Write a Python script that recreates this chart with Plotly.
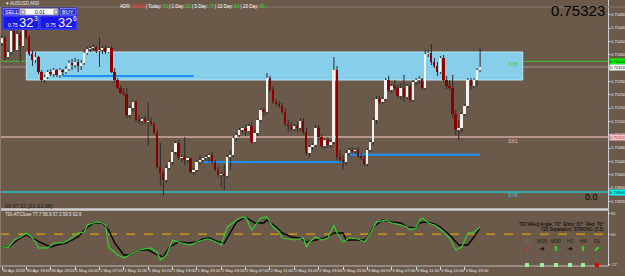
import plotly.graph_objects as go

# ---------------- data ----------------
symbol_title = "AUDUSD,M30"
first_open = 0.75395
close = [0.75410, 0.75353, 0.75368, 0.75431, 0.75374, 0.75422, 0.75386, 0.75434, 0.75413, 0.75362,
         0.75344, 0.75353, 0.75308, 0.75284, 0.75293, 0.75308, 0.75302, 0.75314, 0.75299, 0.75314,
         0.75308, 0.75317, 0.75335, 0.75329, 0.75338, 0.75326, 0.75335, 0.75365, 0.75377, 0.75380,
         0.75383, 0.75371, 0.75374, 0.75380, 0.75368, 0.75380, 0.75308, 0.75284, 0.75260, 0.75245,
         0.75242, 0.75179, 0.75200, 0.75218, 0.75164, 0.75161, 0.75167, 0.75158, 0.75161, 0.75152,
         0.75125, 0.75023, 0.75005, 0.74984, 0.75020, 0.75038, 0.75068, 0.75095, 0.75050, 0.75053,
         0.75044, 0.75050, 0.75008, 0.75014, 0.75038, 0.75044, 0.75050, 0.75053, 0.75059, 0.75038,
         0.75014, 0.74999, 0.75002, 0.74996, 0.75053, 0.75059, 0.75110, 0.75119, 0.75134, 0.75140,
         0.75131, 0.75146, 0.75098, 0.75125, 0.75164, 0.75194, 0.75188, 0.75290, 0.75254, 0.75218,
         0.75212, 0.75206, 0.75188, 0.75152, 0.75146, 0.75137, 0.75146, 0.75140, 0.75161, 0.75128,
         0.75065, 0.75083, 0.75089, 0.75140, 0.75113, 0.75086, 0.75104, 0.75089, 0.75098, 0.75314,
         0.75053, 0.75044, 0.75038, 0.75065, 0.75074, 0.75071, 0.75074, 0.75056, 0.75050, 0.75032,
         0.75074, 0.75098, 0.75164, 0.75227, 0.75218, 0.75227, 0.75284, 0.75254, 0.75266, 0.75260,
         0.75236, 0.75260, 0.75233, 0.75266, 0.75224, 0.75278, 0.75284, 0.75287, 0.75260, 0.75362,
         0.75365, 0.75338, 0.75326, 0.75308, 0.75350, 0.75284, 0.75266, 0.75260, 0.75182, 0.75134,
         0.75140, 0.75182, 0.75206, 0.75284, 0.75266, 0.75284, 0.75314, 0.75323]
high = [0.75419, 0.75416, 0.75374, 0.75440, 0.75437, 0.75431, 0.75428, 0.75449, 0.75458, 0.75419,
        0.75374, 0.75368, 0.75356, 0.75314, 0.75299, 0.75314, 0.75317, 0.75320, 0.75317, 0.75320,
        0.75317, 0.75326, 0.75344, 0.75347, 0.75350, 0.75347, 0.75344, 0.75374, 0.75383, 0.75386,
        0.75392, 0.75386, 0.75413, 0.75386, 0.75389, 0.75383, 0.75386, 0.75320, 0.75290, 0.75269,
        0.75260, 0.75260, 0.75206, 0.75224, 0.75224, 0.75179, 0.75173, 0.75176, 0.75218, 0.75170,
        0.75158, 0.75134, 0.75095, 0.75014, 0.75029, 0.75044, 0.75074, 0.75101, 0.75104, 0.75059,
        0.75113, 0.75053, 0.75050, 0.75020, 0.75044, 0.75059, 0.75053, 0.75059, 0.75065, 0.75068,
        0.75044, 0.75023, 0.75008, 0.75029, 0.75059, 0.75074, 0.75116, 0.75125, 0.75140, 0.75143,
        0.75149, 0.75152, 0.75158, 0.75134, 0.75170, 0.75200, 0.75200, 0.75305, 0.75296, 0.75266,
        0.75227, 0.75221, 0.75215, 0.75200, 0.75164, 0.75158, 0.75152, 0.75158, 0.75170, 0.75170,
        0.75140, 0.75089, 0.75095, 0.75149, 0.75149, 0.75122, 0.75110, 0.75113, 0.75104, 0.75353,
        0.75326, 0.75074, 0.75059, 0.75074, 0.75080, 0.75083, 0.75080, 0.75083, 0.75065, 0.75059,
        0.75080, 0.75104, 0.75170, 0.75236, 0.75236, 0.75233, 0.75290, 0.75296, 0.75272, 0.75284,
        0.75269, 0.75275, 0.75299, 0.75272, 0.75272, 0.75284, 0.75290, 0.75296, 0.75290, 0.75374,
        0.75374, 0.75392, 0.75350, 0.75338, 0.75356, 0.75359, 0.75296, 0.75284, 0.75299, 0.75194,
        0.75164, 0.75188, 0.75212, 0.75290, 0.75290, 0.75290, 0.75320, 0.75380]
low = [0.75386, 0.75344, 0.75347, 0.75359, 0.75368, 0.75371, 0.75338, 0.75383, 0.75407, 0.75356,
       0.75326, 0.75335, 0.75302, 0.75278, 0.75275, 0.75287, 0.75296, 0.75293, 0.75293, 0.75290,
       0.75296, 0.75302, 0.75311, 0.75314, 0.75320, 0.75308, 0.75314, 0.75329, 0.75359, 0.75368,
       0.75371, 0.75365, 0.75323, 0.75362, 0.75362, 0.75365, 0.75305, 0.75278, 0.75257, 0.75242,
       0.75236, 0.75170, 0.75170, 0.75188, 0.75158, 0.75152, 0.75149, 0.75152, 0.75086, 0.75146,
       0.75122, 0.75020, 0.74966, 0.74939, 0.74975, 0.75014, 0.75029, 0.75059, 0.75044, 0.75038,
       0.75029, 0.75035, 0.75002, 0.74999, 0.75008, 0.75029, 0.75035, 0.75041, 0.75038, 0.75032,
       0.75011, 0.74993, 0.74963, 0.74954, 0.74990, 0.75014, 0.75053, 0.75101, 0.75113, 0.75125,
       0.75116, 0.75128, 0.75092, 0.75095, 0.75116, 0.75158, 0.75176, 0.75182, 0.75248, 0.75212,
       0.75206, 0.75200, 0.75182, 0.75146, 0.75128, 0.75131, 0.75131, 0.75128, 0.75131, 0.75122,
       0.75059, 0.75053, 0.75074, 0.75083, 0.75104, 0.75080, 0.75077, 0.75080, 0.75080, 0.75092,
       0.75044, 0.75038, 0.75014, 0.75029, 0.75056, 0.75065, 0.75062, 0.75050, 0.75044, 0.75026,
       0.75026, 0.75068, 0.75089, 0.75152, 0.75212, 0.75212, 0.75221, 0.75248, 0.75245, 0.75254,
       0.75230, 0.75224, 0.75218, 0.75227, 0.75218, 0.75218, 0.75269, 0.75272, 0.75254, 0.75254,
       0.75353, 0.75329, 0.75320, 0.75296, 0.75302, 0.75278, 0.75257, 0.75254, 0.75170, 0.75119,
       0.75104, 0.75128, 0.75176, 0.75200, 0.75254, 0.75260, 0.75266, 0.75308]

time_tick_bars = [0, 8, 16, 24, 32, 40, 48, 56, 64, 72, 80, 88, 96, 104, 112, 120, 128, 136, 144, 152]
time_tick_labels = ["30 Apr 2018", "30 Apr 19:00", "30 Apr 23:00", "1 May 03:00", "1 May 07:00",
                    "1 May 11:00", "1 May 15:00", "1 May 19:00", "1 May 23:00", "2 May 03:00",
                    "2 May 07:00", "2 May 11:00", "2 May 15:00", "2 May 19:00", "2 May 23:00",
                    "3 May 03:00", "3 May 07:00", "3 May 11:00", "3 May 15:00", "3 May 19:00"]

bid_price = 0.75323
green_level = 0.75340
sr61_level = 0.75113
sr78_level = 0.74948
zone_top, zone_bottom = 0.75368, 0.75284
zone_start_bar, zone_end_bar = 8, 171
blue_seg_start = [20, 66, 114]
blue_seg_end = [63, 112, 157]
blue_seg_price = [0.75296, 0.75038, 0.75060]

osc_black_bar = [0, 2, 5, 8, 10, 13, 16, 18, 21, 25, 27, 30, 33, 35, 37, 40, 42, 45, 48, 51, 53, 55, 58, 61, 64,
                 66, 68, 71, 73, 75, 77, 80, 83, 86, 87, 90, 92, 95, 98, 100, 103, 106, 109, 112, 113, 115,
                 119, 120, 122, 125, 128, 131, 133, 136, 137, 139, 142, 144, 147, 150, 153, 155, 157]
osc_black_val = [23.9, 19.6, 37.1, 48.1, 41.5, 30.5, 21.7, 26.1, 30.5, 43.7, 59.1, 74.5, 74.5, 59.1, 30.5,
                 4.2, 4.2, 15.2, 15.2, 4.2, -0.2, 21.7, 32.7, 30.5, 32.7, 39.3, 41.5, 32.7, 30.5, 54.7,
                 76.6, 87.6, 74.5, 74.5, 81.0, 65.7, 52.5, 43.7, 41.5, 32.7, 37.1, 41.5, 52.5, 52.5, 37.1,
                 37.1, 37.1, 43.7, 65.7, 81.0, 76.6, 74.5, 65.7, 63.5, 74.5, 76.6, 72.3, 65.7, 48.1, 26.1,
                 26.1, 43.7, 63.5]
osc_green_bar = [0, 2, 4, 6, 8, 10, 11, 12, 15, 17, 20, 22, 25, 27, 28, 31, 33, 34, 35, 38, 40, 42, 45, 49, 51,
                 52, 54, 56, 59, 62, 64, 67, 68, 71, 72, 74, 78, 80, 82, 85, 87, 89, 91, 92, 96, 99, 100, 101,
                 103, 105, 107, 109, 110, 112, 114, 117, 119, 121, 123, 126, 128, 131, 133, 134, 136, 137,
                 138, 140, 142, 145, 147, 149, 151, 153, 155, 157]
osc_green_val = [23.9, 19.6, 37.1, 43.7, 52.5, 41.5, 32.7, 19.6, 19.6, 30.5, 30.5, 37.1, 52.5, 54.7, 70.1,
                 76.6, 74.5, 70.1, 21.7, 4.2, -2.4, 4.2, 15.2, 19.6, 8.6, -6.8, 4.2, 37.1, 30.5, 26.1, 32.7,
                 39.3, 39.3, 30.5, 26.1, 65.7, 85.4, 87.6, 59.1, 85.4, 87.6, 65.7, 54.7, 41.5, 37.1, 41.5,
                 21.7, 32.7, 43.7, 37.1, 41.5, 70.1, 52.5, 32.7, 41.5, 39.3, 32.7, 52.5, 76.6, 81.0, 74.5,
                 70.1, 65.7, 59.1, 63.5, 78.8, 85.4, 74.5, 70.1, 54.7, 41.5, 15.2, 21.7, 52.5, 54.7, 65.7]
osc_level = 50
osc_ticks = [95, 50, -17]

tdi_title = "TDI-AT:Close 77.7 56.9 57.3 59.5 62.6"
tdi_angle_text = "TDI WAvg Angle: 73°  Entry: 67°  Red: 70°"
tdi_sep_text = "TDI Separation: STRONG (5.5)"
timeframes = ["M5", "M15", "M30", "H1", "H4", "D1"]
tf_arrows = ["↙", "➜", "⬆", "➜", "⬆", "⬈"]
tf_arrow_colors = ["#ff1a1a", "#000000", "#1ee61e", "#000000", "#1ee61e", "#1ee61e"]
tf_square_colors = ["#9cf09c", "#9cf09c", "#9cf09c", "#9cf09c", "#9cf09c", "#e00000"]
adr_items = [("ADR:", "96.5%"), ("| Today:", "56"), ("| 1 Day:", "62"), ("| 5 Day:", "77"),
             ("| 10 Day:", "84"), ("| 20 Day:", "86")]
lot_size = "0.01"
bid_big, bid_small, bid_frac = "32", "0.75", "3"
ask_big, ask_small, ask_frac = "32", "0.75", "6"
timer_text = "00:07:22 [21:32:38]"
fib_zero_text = "0.0"

# ---------------- styling / layout ----------------
W, H = 625, 276
BG = "#6b5a4a"
FONT = "Liberation Sans"
AX_RIGHT = 608 / W


def px(x, y):
    return x / W, 1 - y / H


n = len(close)
bars = list(range(n))
opn = [first_open] + close[:-1]

body_lo, body_h, body_col = [], [], []
wick_x, wick_y = [], []
for i in bars:
    o, c = opn[i], close[i]
    lo, hi = min(o, c), max(o, c)
    h = max(hi - lo, 0.000012)
    body_lo.append(lo)
    body_h.append(h)
    body_col.append("#f2f2f2" if c >= o else "#8b0000")
    wick_x += [i, i, None, i, i, None]
    wick_y += [high[i], hi, None, lo, low[i], None]

fig = go.Figure()
fig.add_trace(go.Scatter(x=wick_x, y=wick_y, mode="lines", line=dict(color="#2b2b2b", width=1),
                         hoverinfo="skip", xaxis="x", yaxis="y"))
fig.add_trace(go.Bar(x=bars, y=body_h, base=body_lo, width=0.62, marker=dict(color=body_col, line=dict(width=0)),
                     hoverinfo="skip", xaxis="x", yaxis="y"))
fig.add_trace(go.Scatter(x=osc_black_bar, y=osc_black_val, mode="lines", line=dict(color="#000000", width=1.4),
                         hoverinfo="skip", xaxis="x2", yaxis="y2"))
fig.add_trace(go.Scatter(x=osc_green_bar, y=osc_green_val, mode="lines", line=dict(color="#2ed12e", width=1.2),
                         hoverinfo="skip", xaxis="x2", yaxis="y2"))

xr = [-0.66, 199.0]
tickfont = dict(family=FONT, size=4.1, color="#e6e6e6")
fig.update_layout(
    template="none", width=W, height=H, margin=dict(l=0, r=0, t=0, b=0),
    paper_bgcolor=BG, plot_bgcolor=BG, showlegend=False, bargap=0, barmode="overlay",
    xaxis=dict(domain=[0, AX_RIGHT], range=xr, anchor="y", showticklabels=False, showgrid=False,
               zeroline=False, showline=False, ticks="", automargin=False),
    yaxis=dict(domain=[1 - 207 / H, 1 - 8 / H], range=[0.74903, 0.75500], side="right", anchor="x",
               dtick=0.0004, tick0=0, tickformat=".5f", ticks="outside", ticklen=1, tickcolor="#e0e0e0",
               tickfont=tickfont, showgrid=False, zeroline=False, showline=False, automargin=False),
    xaxis2=dict(domain=[0, AX_RIGHT], range=xr, anchor="y2", tickvals=time_tick_bars, ticktext=time_tick_labels,
                ticks="outside", ticklen=3, tickcolor="#e0e0e0", ticklabelposition="outside right",
                tickangle=0, tickfont=dict(family=FONT, size=4.2, color="#e6e6e6"),
                showgrid=False, zeroline=False, showline=False, automargin=False),
    yaxis2=dict(domain=[1 - 266 / H, 1 - 211 / H], range=[-20, 100.8], side="right", anchor="x2",
                tickvals=osc_ticks, ticktext=[str(v) for v in osc_ticks], ticks="outside", ticklen=1,
                tickcolor="#e0e0e0", tickfont=tickfont, showgrid=False, zeroline=False, showline=False,
                automargin=False),
)

shapes = []
# support/resistance zone
shapes.append(dict(type="rect", xref="x", yref="y", x0=zone_start_bar, x1=zone_end_bar, y0=zone_bottom,
                   y1=zone_top, fillcolor="#87ceeb", line=dict(color="#b8e6f8", width=1), layer="below"))
# horizontal levels
for lvl, col, w in [(green_level, "#3cc43c", 1), (bid_price, "#9c968f", 1),
                    (sr61_level, "#b8968a", 2), (sr78_level, "#22c4c4", 1.5)]:
    shapes.append(dict(type="line", xref="paper", yref="y", x0=0, x1=AX_RIGHT, y0=lvl, y1=lvl,
                       line=dict(color=col, width=w), layer="below"))
for s, e, p in zip(blue_seg_start, blue_seg_end, blue_seg_price):
    shapes.append(dict(type="line", xref="x", yref="y", x0=s, x1=e, y0=p, y1=p,
                       line=dict(color="#1e8fff", width=2), layer="below"))
# oscillator level
shapes.append(dict(type="line", xref="paper", yref="y2", x0=0, x1=AX_RIGHT, y0=osc_level, y1=osc_level,
                   line=dict(color="#e0a010", width=1.3, dash="dash"), layer="below"))
# frame lines
for (x0, y0, x1, y1, col, w) in [(608.5, 0, 608.5, 266, "#cfcfcf", 1), (0, 209.5, 608.5, 209.5, "#cfcfcf", 2.5),
                                 (0, 266, 608.5, 266, "#bdbdbd", 1), (0.5, 7, 0.5, 266, "#8c7c6c", 1),
                                 (0, 7, 625, 7, "#85756a", 1)]:
    a, b = px(x0, y0)
    c, d = px(x1, y1)
    shapes.append(dict(type="line", xref="paper", yref="paper", x0=a, y0=b, x1=c, y1=d,
                       line=dict(color=col, width=w), layer="above"))


def rect(x0, y0, x1, y1, fill, line_col, lw=1):
    a, b = px(x0, y0)
    c, d = px(x1, y1)
    shapes.append(dict(type="rect", xref="paper", yref="paper", x0=a, y0=d, x1=c, y1=b,
                       fillcolor=fill, line=dict(color=line_col, width=lw), layer="above"))


# one-click trading panel
rect(2, 7.5, 77, 30, "#1d1db4", "#1d1db4", 0)
rect(3, 8.5, 19, 15, "#2a2ad6", "#7d7dff")
rect(20, 8.5, 58, 15, "#ffffff", "#9a9ab0")
rect(21, 10, 25, 14, "#d8d8d8", "#808080")
rect(54, 10, 58, 14, "#d8d8d8", "#808080")
rect(60, 8.5, 76, 15, "#2a2ad6", "#7d7dff")
rect(3, 16, 38.5, 29, "#1818e8", "#5050ff")
rect(40, 16, 76, 29, "#1818e8", "#5050ff")
# timeframe status squares
tf_x = [527, 542, 556, 570, 583, 597]
for xx, col in zip(tf_x, tf_square_colors):
    rect(xx - 2, 263, xx + 2, 267, col, col, 0)
fig.update_layout(shapes=shapes)

ann = []


def text(x, y, s, size=5, color="#ffffff", anchor="left", family=FONT, yanchor="middle"):
    a, b = px(x, y)
    ann.append(dict(x=a, y=b, xref="paper", yref="paper", text=s, showarrow=False, xanchor=anchor,
                    yanchor=yanchor, font=dict(family=family, size=size, color=color)))


text(4, 3, "▾ " + symbol_title, size=4.5, color="#e8e8e8")
adr_html = " ".join(f"{lab} <span style='color:{'#ff3030' if k == 0 else '#22dd22'}'>{val}</span>"
                    for k, (lab, val) in enumerate(adr_items))
text(118, 6.5, adr_html, size=4.5, color="#ffffff")
text(11, 12, "SELL", size=5.5, anchor="center")
text(68, 12, "BUY", size=5.5, anchor="center")
text(40, 12, lot_size, size=5, color="#000000", anchor="center")
text(6, 24.5, bid_small, size=5)
text(17, 22.5, bid_big, size=13)
text(32, 18.5, bid_frac, size=6.5)
text(44, 24.5, ask_small, size=5)
text(56, 22.5, ask_big, size=13)
text(71, 18.5, ask_frac, size=6.5)
text(607, 11, f"{bid_price:.5f}", size=15, color="#000000", anchor="right")
text(506, 63.5, "S38", size=5.5, color="#3cd23c")
text(506, 141, "S61", size=5.5, color="#f0b0b8")
text(506, 195, "S78", size=5.5, color="#22d0d0")
text(600, 197, fib_zero_text, size=9, color="#000000", anchor="right")
text(3, 206, timer_text, size=5.5, color="#1a1a1a")
text(3, 214.5, tdi_title, size=4.5, color="#e8e8e8")
text(606, 224, tdi_angle_text, size=4.5, color="#000000", anchor="right")
text(606, 229.5, tdi_sep_text, size=4.5, color="#000000", anchor="right")
for xx, tf, arr, ac in zip(tf_x, timeframes, tf_arrows, tf_arrow_colors):
    text(xx, 241, tf, size=5, color="#1a1a1a" if tf != "M5" else "#7a6e62", anchor="center")
    text(xx, 249, arr, size=7, color=ac, anchor="center", family="DejaVu Sans")
    text(xx, 257, "●", size=5, color="#5e5e5e", anchor="center", family="DejaVu Sans")

# right-axis price labels
for lvl, bg, fg in [(green_level, "#00ff00", "#000000"), (bid_price, "#ffffff", "#000000"),
                    (sr61_level, "#ffc0cb", "#6b4a4a"), (sr78_level, "#00ffff", "#000000")]:
    ann.append(dict(x=609 / W, y=lvl, xref="paper", yref="y", text=f"{lvl:.5f}", showarrow=False,
                    xanchor="left", yanchor="middle", bgcolor=bg, borderpad=0,
                    font=dict(family=FONT, size=4.1, color=fg)))
fig.update_layout(annotations=ann)

fig.write_html("out.html")
